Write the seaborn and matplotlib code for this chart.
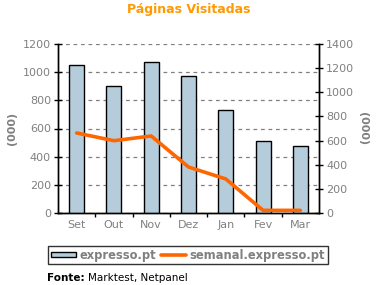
import numpy as np
import pandas as pd
import matplotlib
matplotlib.use("Agg")
import matplotlib.pyplot as plt
import seaborn as sns
from matplotlib.patches import Patch
from matplotlib.lines import Line2D

months = ["Set", "Out", "Nov", "Dez", "Jan", "Fev", "Mar"]
expresso = [1050, 900, 1070, 970, 730, 510, 475]
semanal = [663, 599, 638, 381, 282, 22, 22]
left_ticks = [0, 200, 400, 600, 800, 1000, 1200]
right_ticks = [0, 200, 400, 600, 800, 1000, 1200, 1400]

sns.set_style("white")
plt.rcParams['font.family'] = ['DejaVu Sans']

BAR = "#B5CDDB"
LINE = "#FF6600"
GREY = "#808080"

fig = plt.figure(figsize=(3.77, 2.85), dpi=100)
ax = fig.add_axes([58/377, 1-213/285, (319-58)/377, (213-44)/285])

df = pd.DataFrame({"mes": months, "expresso": expresso, "semanal": semanal, "pos": np.arange(len(months))})

sns.barplot(data=df, x="mes", y="expresso", ax=ax, color=BAR, edgecolor="black",
            linewidth=1.0, width=0.4, saturation=1, zorder=3)
ax.set_xlim(-0.5, len(months) - 0.5)
ax.set_ylim(0, 1200)
ax.set_yticks(left_ticks)
ax.yaxis.grid(True, linestyle=(0, (3, 3)), color=GREY, linewidth=0.9)
ax.set_axisbelow(True)
ax.set_xlabel("")
ax.set_ylabel("(000)", color=GREY, fontsize=8, fontweight="bold", labelpad=4)

ax2 = ax.twinx()
sns.lineplot(data=df, x="pos", y="semanal", ax=ax2, color=LINE, linewidth=2.6, zorder=5)
ax2.set_ylim(0, 1400)
ax2.set_yticks(right_ticks)
ax2.set_xlim(-0.5, len(months) - 0.5)
ax2.set_ylabel("(000)", color=GREY, fontsize=8, fontweight="bold", rotation=270, labelpad=10)
ax2.set_xlabel("")

for a in (ax, ax2):
    for s in ["top"]:
        a.spines[s].set_visible(False)
    for s in ["left", "right", "bottom"]:
        a.spines[s].set_color("black")
        a.spines[s].set_linewidth(1.0)

ax.tick_params(axis="y", direction="inout", length=6, width=1, colors="black",
               labelcolor=GREY, labelsize=8, left=True, pad=2)
ax2.tick_params(axis="y", direction="inout", length=6, width=1, colors="black",
                labelcolor=GREY, labelsize=8, right=True, pad=2)
ax.set_xticks(np.arange(len(months)))
ax.set_xticklabels(months)
ax.set_xticks(np.arange(len(months) - 1) + 0.5, minor=True)
ax.tick_params(axis="x", which="major", length=0, labelcolor=GREY, labelsize=8, pad=5)
ax.tick_params(axis="x", which="minor", direction="out", length=3, width=1, colors="black", bottom=True)
ax2.tick_params(axis="x", which="both", length=0, labelbottom=False)

fig.text(0.5, 1-10/285, "Páginas Visitadas", ha="center", va="center",
         color="#FF9900", fontsize=9, fontweight="bold")

handles = [Patch(facecolor=BAR, edgecolor="black", linewidth=1.0),
           Line2D([0], [0], color=LINE, linewidth=2.6)]
leg = fig.legend(handles, ["expresso.pt", "semanal.expresso.pt"], loc="center",
                 bbox_to_anchor=(188/377, 1-255/285), ncol=2, frameon=True,
                 fontsize=8.3, handlelength=2.2, handleheight=0.35, handletextpad=0.3,
                 columnspacing=0.4, borderpad=0.25, fancybox=False)
leg.get_frame().set_edgecolor("black")
leg.get_frame().set_linewidth(1.0)
for t in leg.get_texts():
    t.set_color(GREY)
    t.set_fontweight("bold")

fig.text(47/377, 1-278/285, "Fonte:", ha="left", va="center", fontsize=7.5, fontweight="bold", color="black")
fig.text(88/377, 1-278/285, "Marktest, Netpanel", ha="left", va="center", fontsize=7.5, color="black")

fig.savefig("out.png", dpi=100, facecolor="white")
